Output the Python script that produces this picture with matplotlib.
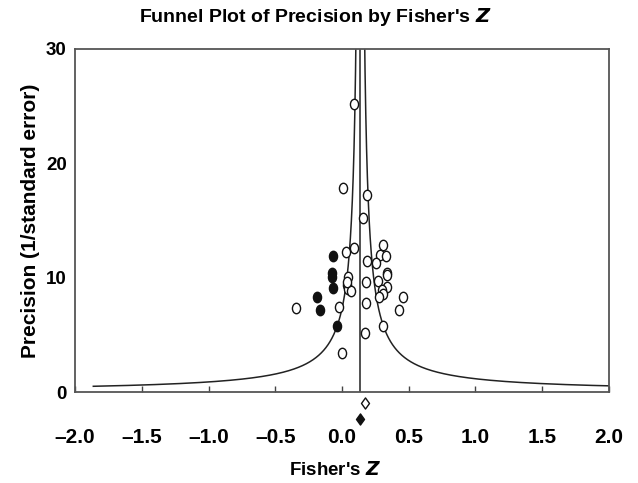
import numpy as np
import matplotlib
matplotlib.use("Agg")
import matplotlib.pyplot as plt
from matplotlib.path import Path

plt.rcParams['font.family'] = ['Liberation Sans', 'DejaVu Sans']
plt.rcParams['font.weight'] = 'bold'

# Observed studies (open circles): Fisher's Z, precision
obs_z = [-0.345, 0.002, -0.02, 0.03, 0.09, 0.047, 0.04, 0.047, 0.065, 0.035,
         0.185, 0.18, 0.18, 0.172, 0.31, 0.285, 0.33, 0.255, 0.335, 0.34,
         0.27, 0.335, 0.297, 0.31, 0.28, 0.46, 0.43, 0.31,
         0.09, 0.005, 0.19, 0.16]
obs_prec = [7.35, 3.38, 7.47, 12.25, 12.57, 10.09, 9.36, 8.98, 8.84, 9.6,
            11.49, 9.6, 7.81, 5.19, 12.86, 11.99, 11.9, 11.26, 10.44, 10.24,
            9.74, 9.16, 8.92, 8.57, 8.34, 8.28, 7.17, 5.8,
            25.2, 17.8, 17.2, 15.2]

# Imputed studies (filled circles)
imp_z = [-0.065, -0.077, -0.077, -0.065, -0.19, -0.165, -0.04]
imp_prec = [11.9, 10.44, 10.03, 9.07, 8.28, 7.17, 5.77]

# Summary estimates (diamonds below the axis)
observed_mean = 0.17
adjusted_mean = 0.137
observed_diamond_y = -0.94
adjusted_diamond_y = -2.36

x_ticks = [-2.0, -1.5, -1.0, -0.5, 0.0, 0.5, 1.0, 1.5, 2.0]
x_tick_labels = ['\u20132.0', '\u20131.5', '\u20131.0', '\u20130.5', '0.0', '0.5', '1.0', '1.5', '2.0']
y_ticks = [0, 10, 20, 30]
funnel_k = 1.0

fig = plt.figure(figsize=(6.38, 4.83), dpi=100)
ax = fig.add_axes([0.1176, 0.1884, 0.8369, 0.7102])

ell = Path.unit_circle()
ell = Path(ell.vertices * np.array([0.78, 1.0]), ell.codes)
dia = Path([(0, 1), (0.72, 0), (0, -1), (-0.72, 0), (0, 1)],
           [Path.MOVETO, Path.LINETO, Path.LINETO, Path.LINETO, Path.CLOSEPOLY])

# funnel
p = np.linspace(0.5, 300, 20000)
ax.plot(adjusted_mean - funnel_k / p, p, color='#222222', lw=1.1)
ax.plot(adjusted_mean + funnel_k / p, p, color='#222222', lw=1.1)
ax.plot([adjusted_mean, adjusted_mean], [0, 30], color='#222222', lw=1.1)

ax.plot(obs_z, obs_prec, linestyle='none', marker=ell, markersize=7.5,
        markerfacecolor='white', markeredgecolor='#111111', markeredgewidth=1.0)
ax.plot(imp_z, imp_prec, linestyle='none', marker=ell, markersize=7.5,
        markerfacecolor='#111111', markeredgecolor='#111111', markeredgewidth=1.0)

ax.plot([observed_mean], [observed_diamond_y], linestyle='none', marker=dia, markersize=8,
        markerfacecolor='white', markeredgecolor='#111111', markeredgewidth=1.0, clip_on=False)
ax.plot([adjusted_mean], [adjusted_diamond_y], linestyle='none', marker=dia, markersize=8,
        markerfacecolor='#111111', markeredgecolor='#111111', markeredgewidth=1.0, clip_on=False)

ax.set_xlim(-2.0, 2.0)
ax.set_ylim(0, 30)
ax.set_xticks(x_ticks)
ax.set_xticklabels(x_tick_labels)
ax.set_yticks(y_ticks)
ax.tick_params(axis='x', direction='in', length=4, width=1.0, color='#444444',
               labelsize=15, pad=26)
ax.tick_params(axis='y', length=0, labelsize=13.5, pad=6)
for lab in ax.get_xticklabels() + ax.get_yticklabels():
    lab.set_fontweight('bold')
for s in ax.spines.values():
    s.set_color('#555555')
    s.set_linewidth(1.3)

fig.text(0.495, 0.965, "Funnel Plot of Precision by Fisher's $\\boldsymbol{Z}$", fontsize=14,
         fontweight='bold', ha='center', va='center')
ax.set_xlabel("Fisher's $\\boldsymbol{Z}$", fontsize=13.5, fontweight='bold')
ax.xaxis.set_label_coords(0.487, -0.2)
ax.set_ylabel("Precision (1/standard error)", fontsize=15, fontweight='bold', labelpad=4)

fig.savefig('out.png', dpi=100)
